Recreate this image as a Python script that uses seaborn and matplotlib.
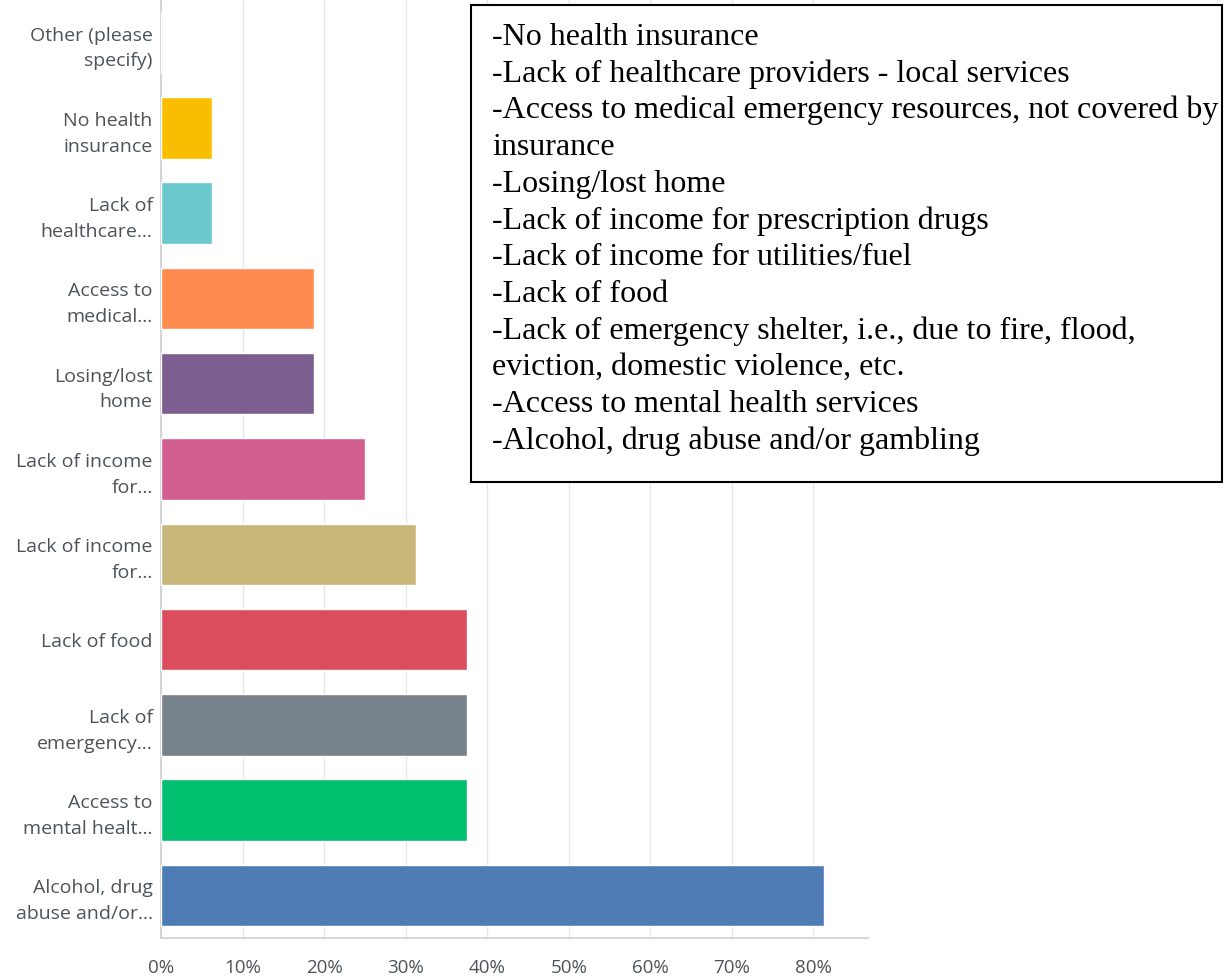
import matplotlib
matplotlib.use("Agg")
import matplotlib.pyplot as plt
import seaborn as sns
import pandas as pd
from matplotlib.patches import Rectangle

# survey answers (top to bottom) and share of respondents in percent
categories = [
    "Other (please specify)",
    "No health insurance",
    "Lack of healthcare providers - local services",
    "Access to medical emergency resources, not covered by insurance",
    "Losing/lost home",
    "Lack of income for prescription drugs",
    "Lack of income for utilities/fuel",
    "Lack of food",
    "Lack of emergency shelter",
    "Access to mental health services",
    "Alcohol, drug abuse and/or gambling",
]
tick_labels = [
    "Other (please\nspecify)",
    "No health\ninsurance",
    "Lack of\nhealthcare...",
    "Access to\nmedical...",
    "Losing/lost\nhome",
    "Lack of income\nfor...",
    "Lack of income\nfor...",
    "Lack of food",
    "Lack of\nemergency...",
    "Access to\nmental healt...",
    "Alcohol, drug\nabuse and/or...",
]
values = [0, 6.25, 6.25, 18.75, 18.75, 25.0, 31.25, 37.5, 37.5, 37.5, 81.25]
colors = ["#FFFFFF", "#F9BE00", "#6BC8CD", "#FF8B4F", "#7D5E90", "#D25F90",
          "#C7B879", "#DB4D5C", "#78828B", "#00BF6F", "#507CB6"]

box_lines = [
    "-No health insurance",
    "-Lack of healthcare providers - local services",
    "-Access to medical emergency resources, not covered by",
    "insurance",
    "-Losing/lost home",
    "-Lack of income for prescription drugs",
    "-Lack of income for utilities/fuel",
    "-Lack of food",
    "-Lack of emergency shelter, i.e., due to fire, flood,",
    "eviction, domestic violence, etc.",
    "-Access to mental health services",
    "-Alcohol, drug abuse and/or gambling",
]

df = pd.DataFrame({"answer": categories, "pct": values})

sns.set_style("white")
plt.rcParams["font.family"] = ["Open Sans", "DejaVu Sans"]

W, H = 1225, 977
fig = plt.figure(figsize=(W / 100, H / 100), dpi=100)
ax = fig.add_axes([161 / W, 1 - 938 / H, (868 - 161) / W, 938 / H])

sns.barplot(data=df, y="answer", x="pct", hue="answer", palette=colors,
            order=categories, hue_order=categories, legend=False,
            width=0.72, saturation=1, orient="h", ax=ax, zorder=3)

ax.set_xlim(0, 86.7)
ax.set_ylim(10.5, -0.5)
ax.set_xticks(range(0, 90, 10))
ax.set_xticklabels([f"{t}%" for t in range(0, 90, 10)])
ax.set_yticks(range(len(categories)))
ax.set_yticklabels(tick_labels, ha="right", multialignment="right")
for lab in ax.get_yticklabels():
    lab.set_linespacing(1.55)
ax.set_xlabel("")
ax.set_ylabel("")

ax.xaxis.grid(True, color="#e6e6e6", linewidth=1, zorder=0)
ax.set_axisbelow(True)
ax.tick_params(axis="y", length=0, labelsize=14, labelcolor="#4d5358", pad=6)
ax.tick_params(axis="x", length=0, labelsize=13.5, labelcolor="#4d5358", pad=15)
for side in ["top", "right"]:
    ax.spines[side].set_visible(False)
for side in ["left", "bottom"]:
    ax.spines[side].set_color("#cfcfcf")
    ax.spines[side].set_linewidth(1.2)

# text box listing the full answers
fig.patches.append(Rectangle((471 / W, 1 - 482 / H), (1222 - 471) / W, (482 - 5) / H,
                             transform=fig.transFigure, facecolor="white",
                             edgecolor="black", linewidth=1.5, zorder=5))
for i, line in enumerate(box_lines):
    fig.text(492 / W, 1 - (45 + 36.7 * i) / H, line, ha="left", va="baseline",
             family="Liberation Serif", fontsize=23, color="black", zorder=6)

fig.savefig("out.png", dpi=100)
